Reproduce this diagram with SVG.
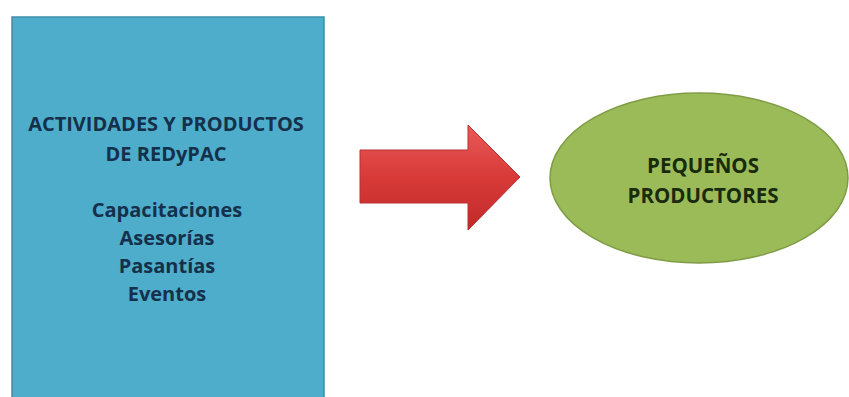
<svg xmlns="http://www.w3.org/2000/svg" width="849" height="397" viewBox="0 0 849 397">
<style>
.t{font-family:"Open Sans","Liberation Sans",sans-serif;font-weight:bold;text-anchor:middle;}
.b{fill:#15304a;font-size:20px;}
.g{fill:#1a2a0c;font-size:20.5px;}
</style>
<defs>
<linearGradient id="ar" x1="0" y1="0" x2="0" y2="1">
<stop offset="0" stop-color="#e85a58"/>
<stop offset="0.5" stop-color="#d83a38"/>
<stop offset="1" stop-color="#c02a2a"/>
</linearGradient>
</defs>
<rect width="849" height="397" fill="#ffffff"/>
<g id="box">
<rect x="12" y="17" width="312" height="390" fill="#4eadcb" stroke="#3f8fa8" stroke-width="1.5"/>
<text class="t b" x="166" y="131">ACTIVIDADES Y PRODUCTOS</text>
<text class="t b" x="166" y="161">DE REDyPAC</text>
<text class="t b" x="167" y="217">Capacitaciones</text>
<text class="t b" x="167" y="245">Asesorías</text>
<text class="t b" x="167" y="273">Pasantías</text>
<text class="t b" x="167" y="301">Eventos</text>
</g>
<g id="connectors">
<polygon points="360,150 468,150 468,125 520,177 468,230 468,203 360,203" fill="url(#ar)" stroke="#b83030" stroke-width="1"/>
</g>
<g id="ellipse">
<ellipse cx="699" cy="178" rx="149" ry="85" fill="#9bbb59" stroke="#7f9c45" stroke-width="1.5"/>
<text class="t g" x="703" y="173">PEQUEÑOS</text>
<text class="t g" x="703" y="203">PRODUCTORES</text>
</g>
</svg>
